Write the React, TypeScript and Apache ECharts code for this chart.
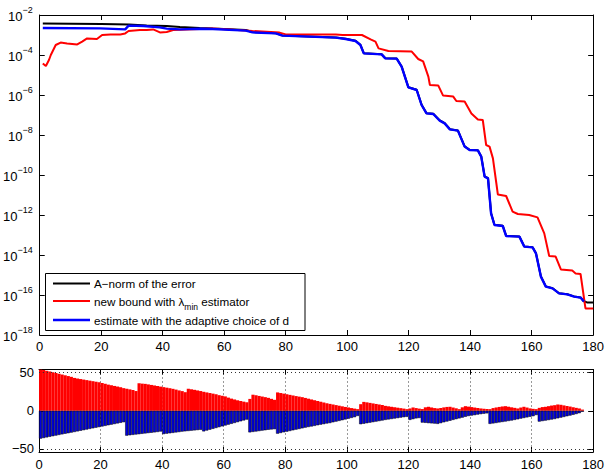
import React, { useEffect, useRef } from 'react';
import * as echarts from 'echarts';

// ---- Top panel (log10 of values) ----
const errX = [1, 20, 29, 34.8, 41.3, 45.6, 52, 56.3, 67, 69.2, 76.8, 78.9, 96.3, 99.5, 102.7, 104.3, 105.4, 111.2, 112.4, 116.1, 117.7, 119.9, 122.6, 124.2, 125.8, 128, 130.1, 131.7, 133.4, 136, 138.2, 139.8, 142.5, 143.6, 144.7, 145.8, 146.8, 147.9, 150.6, 151.7, 156, 157.6, 160.3, 161.4, 163, 164.6, 166.8, 168.9, 171.6, 173.8, 175.9, 176.8, 178, 180];
const errY = [-2.43, -2.45, -2.47, -2.52, -2.55, -2.6, -2.65, -2.68, -2.75, -2.85, -2.91, -3.02, -3.12, -3.19, -3.29, -3.49, -3.91, -3.96, -4.16, -4.17, -4.57, -5.61, -5.74, -6.49, -6.91, -6.94, -7.27, -7.41, -7.71, -7.77, -8.57, -8.74, -8.76, -9.07, -10.07, -10.16, -11.91, -12.49, -12.54, -13.04, -13.07, -13.57, -13.61, -13.91, -15.07, -15.57, -15.66, -15.91, -15.96, -16.07, -16.12, -16.3, -16.37, -16.37];

const boundX = [1, 2, 3, 3.6, 5.2, 6.8, 8.9, 12.2, 13.8, 15.4, 18.6, 20.3, 23, 26.2, 27.8, 28.9, 32.6, 34.8, 36.9, 39.1, 41.3, 43.4, 47.7, 52, 56.3, 61.7, 69.2, 78, 80, 96.3, 98.5, 104.8, 107.6, 109.2, 110.2, 113.4, 121, 123.1, 124.7, 126.4, 126.9, 129.6, 131.2, 134.5, 135.5, 138.2, 140.4, 142.5, 144.1, 145.2, 146.3, 147.4, 148.5, 149, 151.7, 153.8, 155.5, 159.2, 161.9, 164.1, 165.7, 167.8, 169.5, 173.2, 174.3, 175.9, 177.5, 180];
const boundY = [-4.42, -4.55, -4.25, -4.0, -3.5, -3.38, -3.42, -3.47, -3.33, -3.17, -3.2, -3.0, -2.97, -2.97, -2.92, -2.8, -2.75, -2.75, -2.72, -2.87, -2.85, -2.75, -2.72, -2.7, -2.67, -2.72, -2.8, -2.88, -2.97, -2.97, -3.0, -3.0, -3.22, -3.33, -3.67, -3.8, -3.83, -4.2, -4.32, -5.08, -5.5, -5.52, -6.03, -6.08, -6.3, -6.33, -6.92, -7.22, -7.25, -8.5, -8.58, -9.17, -10.4, -10.97, -11.05, -11.83, -11.95, -12.0, -12.12, -12.92, -14.05, -14.08, -14.72, -14.78, -14.92, -14.95, -16.67, -16.67];

const estX = [1, 19.7, 27.8, 28.9, 33.7, 39, 41.3, 45.6, 52, 56.3, 67, 69.2, 76.8, 78.9, 96.3, 99.5, 102.7, 104.3, 105.4, 111.2, 112.4, 116.1, 117.7, 119.9, 122.6, 124.2, 125.8, 128, 130.1, 131.7, 133.4, 136, 138.2, 139.8, 142.5, 143.6, 144.7, 145.8, 146.8, 147.9, 150.6, 151.7, 156, 157.6, 160.3, 161.4, 163, 164.6, 166.8, 168.9, 171.6, 173.8, 175.9, 177];
const estY = [-2.65, -2.67, -2.72, -2.53, -2.55, -2.62, -2.68, -2.72, -2.69, -2.7, -2.78, -2.87, -2.92, -3.03, -3.13, -3.2, -3.3, -3.5, -3.92, -3.97, -4.17, -4.18, -4.58, -5.62, -5.75, -6.5, -6.92, -6.95, -7.28, -7.42, -7.72, -7.78, -8.58, -8.75, -8.77, -9.08, -10.08, -10.17, -11.92, -12.5, -12.55, -13.05, -13.08, -13.58, -13.62, -13.92, -15.08, -15.58, -15.67, -15.92, -15.97, -16.08, -16.13, -16.33];

// ---- Bottom panel (bar k = 1..177) ----
const barPos = [
  53.8, 53.4, 52.3, 51.4, 50.4, 49.4, 48.4, 47.4, 46.4, 45.4,
  44.4, 43.0, 42.2, 41.5, 40.8, 40.1, 39.4, 38.7, 38.0, 37.3,
  36.3, 35.3, 34.2, 33.4, 32.5, 31.7, 30.8, 29.6, 28.8, 28.0,
  27.2, 25.8, 36.0, 35.5, 35.2, 34.5, 33.8, 33.1, 32.4, 31.6,
  30.9, 30.2, 29.5, 28.7, 27.7, 26.6, 25.7, 24.3, 28.8, 28.1,
  27.4, 26.6, 25.8, 24.8, 24.0, 23.2, 22.4, 21.6, 20.4, 19.6,
  18.8, 17.2, 15.9, 14.8, 13.7, 12.8, 11.9, 11.1, 15.5, 21.0,
  20.2, 19.4, 18.6, 17.8, 16.9, 15.6, 14.3, 24.0, 23.2, 22.4,
  21.6, 20.8, 20.0, 19.2, 18.5, 17.8, 16.8, 15.8, 14.8, 13.8,
  12.8, 11.8, 10.8, 9.8, 9.0, 8.2, 7.4, 6.6, 5.8, 5.0,
  4.3, 3.5, 2.8, 2.1, 8.6, 11.6, 11.0, 10.3, 9.6, 8.9,
  8.2, 7.5, 6.4, 5.8, 5.2, 4.6, 4.0, 3.4, 2.8, 2.1,
  3.0, 4.3, 3.5, 2.8, 2.2, 4.5, 5.2, 4.3, 3.5, 3.0,
  3.6, 4.4, 5.0, 5.2, 4.2, 3.2, 2.1, 4.5, 6.0, 5.4,
  4.8, 4.2, 3.6, 3.0, 2.6, 2.3, 2.1, 3.5, 4.3, 5.0,
  5.6, 6.0, 5.3, 4.5, 3.8, 3.0, 4.2, 5.2, 4.2, 3.1,
  2.5, 2.1, 3.8, 4.8, 5.2, 6.0, 6.8, 7.3, 8.2, 7.8,
  7.0, 6.2, 5.5, 4.6, 3.8, 3.0, 1.5,
];
const barNeg = [
  -36.5, -35.7, -34.9, -34.1, -33.3, -32.5, -31.7, -30.9, -30.1, -29.4,
  -28.6, -27.8, -27.0, -26.2, -25.4, -24.6, -23.8, -23.0, -22.2, -21.4,
  -20.6, -19.8, -19.0, -18.2, -17.4, -16.6, -15.8, -15.0, -32.6, -32.1,
  -31.6, -31.1, -30.7, -30.2, -29.7, -29.2, -28.8, -28.3, -27.8, -27.2,
  -30.5, -30.0, -29.5, -29.0, -28.4, -27.9, -27.3, -26.9, -26.5, -26.1,
  -25.7, -25.3, -24.9, -27.0, -25.9, -24.8, -23.7, -22.6, -21.5, -20.4,
  -19.3, -18.2, -17.1, -16.0, -14.9, -13.8, -12.7, -11.6, -28.3, -27.7,
  -27.2, -26.6, -26.0, -25.5, -24.9, -24.5, -24.1, -30.0, -29.1, -28.2,
  -27.4, -26.5, -25.6, -24.7, -23.9, -23.0, -22.1, -21.3, -20.6, -19.8,
  -19.0, -18.2, -17.5, -16.7, -16.1, -15.1, -14.2, -13.3, -12.4, -11.4,
  -10.4, -9.4, -8.4, -6.8, -17.6, -17.0, -16.3, -15.6, -14.9, -14.2,
  -13.5, -12.8, -12.0, -11.4, -10.8, -10.2, -9.6, -9.0, -8.4, -8.0,
  -12.0, -11.0, -10.0, -9.5, -15.5, -15.8, -16.2, -16.5, -16.8, -17.2,
  -16.2, -15.1, -14.1, -13.1, -12.0, -11.0, -10.0, -9.0, -7.9, -6.9,
  -6.3, -5.7, -5.0, -4.4, -3.9, -3.4, -17.2, -16.6, -16.0, -15.3,
  -14.7, -14.1, -13.4, -12.8, -12.0, -11.2, -10.3, -9.5, -8.7, -7.9,
  -7.1, -5.6, -14.2, -13.5, -12.9, -12.2, -11.5, -10.8, -9.9, -9.0,
  -8.1, -7.2, -6.3, -5.3, -4.3, -3.2, -1.3,
];
const barTicks = [-50, 0, 50];
const barGridLines = [50, -50];

const legendItems = [
  { text: 'A\u2212norm of the error', color: '#000000', width: 2 },
  { text: 'new bound with \u03bb{sub|min} estimator', color: '#ff0000', width: 2 },
  { text: 'estimate with the adaptive choice of d', color: '#0000ff', width: 2.3 },
];

const FONT = 'Liberation Sans, Arial, Helvetica, sans-serif';

export default function App() {
  const ref = useRef<HTMLDivElement>(null);
  useEffect(() => {
    const chart = echarts.init(ref.current!, null, { renderer: 'svg' });
    const axisLine = { show: true, onZero: false, lineStyle: { color: '#000', width: 1 } };
    const tick = { show: true, inside: true, length: 5, lineStyle: { color: '#000', width: 1 } };
    const lbl = { fontSize: 13, color: '#000', fontFamily: FONT };
    const pairs = (xs: number[], ys: number[]) => xs.map((x, i) => [x, ys[i]]);
    const legendRows = [283.5, 301, 320];

    const option: any = {
      animation: false,
      backgroundColor: '#fff',
      grid: [
        { left: 39, top: 15, width: 557, height: 320 },
        { left: 39, top: 369.5, width: 557, height: 83.5 },
      ],
      xAxis: [
        { type: 'value', gridIndex: 0, position: 'bottom', min: 0, max: 180, interval: 20, axisLine, axisTick: tick, splitLine: { show: false }, axisLabel: { ...lbl, margin: 5 } },
        { type: 'value', gridIndex: 0, position: 'top', min: 0, max: 180, interval: 20, axisLine, axisTick: tick, splitLine: { show: false }, axisLabel: { show: false } },
        { type: 'value', gridIndex: 1, position: 'bottom', min: 0, max: 180, interval: 20, axisLine, axisTick: tick, splitLine: { show: true, lineStyle: { type: [1, 3], color: '#333', width: 1 } }, axisLabel: { ...lbl, margin: 6 } },
        { type: 'value', gridIndex: 1, position: 'top', min: 0, max: 180, interval: 20, axisLine, axisTick: tick, splitLine: { show: false }, axisLabel: { show: false } },
      ],
      yAxis: [
        {
          type: 'value', gridIndex: 0, position: 'left', min: -18, max: -2, interval: 2, axisLine, axisTick: tick, splitLine: { show: false },
          axisLabel: {
            margin: 7,
            formatter: (v: number) => `{b|10}{s|\u2212${Math.abs(v)}}`,
            rich: {
              b: { fontSize: 13, color: '#000', fontFamily: FONT, padding: [3, 0, 0, 0] },
              s: { fontSize: 9, color: '#000', fontFamily: FONT, padding: [0, 0, 11, 0] },
            },
          },
        },
        { type: 'value', gridIndex: 0, position: 'right', min: -18, max: -2, interval: 2, axisLine, axisTick: tick, splitLine: { show: false }, axisLabel: { show: false } },
        {
          type: 'value', gridIndex: 1, position: 'left', min: -54, max: 54, axisLine,
          axisTick: { ...tick, customValues: barTicks }, splitLine: { show: false },
          axisLabel: { ...lbl, margin: 5, customValues: barTicks, formatter: (v: number) => (v < 0 ? '\u2212' + Math.abs(v) : String(v)) },
        },
        {
          type: 'value', gridIndex: 1, position: 'right', min: -54, max: 54, axisLine,
          axisTick: { ...tick, customValues: barTicks }, splitLine: { show: false }, axisLabel: { show: false },
        },
      ],
      series: [
        { type: 'line', xAxisIndex: 0, yAxisIndex: 0, data: pairs(errX, errY), symbol: 'none', lineStyle: { color: '#000', width: 2 }, z: 2 },
        { type: 'line', xAxisIndex: 0, yAxisIndex: 0, data: pairs(boundX, boundY), symbol: 'none', lineStyle: { color: '#ff0000', width: 2 }, z: 3 },
        { type: 'line', xAxisIndex: 0, yAxisIndex: 0, data: pairs(estX, estY), symbol: 'none', lineStyle: { color: '#0000ff', width: 2.4 }, z: 4 },
        {
          type: 'bar', xAxisIndex: 2, yAxisIndex: 2, barWidth: 3.15, barGap: '-100%',
          data: barPos.map((v, i) => [i + 0.5, v]), itemStyle: { color: '#ff0000' },
          markLine: {
            silent: true, symbol: ['none', 'none'], label: { show: false },
            lineStyle: { type: [1, 3], color: '#333', width: 1 },
            data: barGridLines.map((y) => ({ yAxis: y })),
          },
        },
        {
          type: 'bar', xAxisIndex: 2, yAxisIndex: 2, barWidth: 3.1, barGap: '-100%',
          data: barNeg.map((v, i) => [i + 0.5, v]), itemStyle: { color: '#0000e0', borderColor: '#000', borderWidth: 0.5 },
        },
      ],
      graphic: [
        {
          type: 'rect', z: 100, shape: { x: 45.5, y: 273.5, width: 259.5, height: 57 },
          style: { fill: '#fff', stroke: '#000', lineWidth: 1 },
        },
        ...legendItems.map((it, i) => ({
          type: 'line', z: 101, shape: { x1: 53, y1: legendRows[i], x2: 90, y2: legendRows[i] },
          style: { stroke: it.color, lineWidth: it.width },
        })),
        ...legendItems.map((it, i) => ({
          type: 'text', z: 101, x: 94, y: legendRows[i],
          style: {
            text: it.text, fill: '#000', fontSize: 11.7, fontFamily: FONT, verticalAlign: 'middle', align: 'left',
            rich: { sub: { fontSize: 8.5, fontFamily: FONT, fill: '#000', padding: [11, 0, 0, 0] } },
          },
        })),
      ],
    };
    chart.setOption(option);
    return () => chart.dispose();
  }, []);
  return <div ref={ref} style={{ position: 'absolute', left: 0, top: 0, width: 607, height: 471, background: '#fff' }} />;
}
